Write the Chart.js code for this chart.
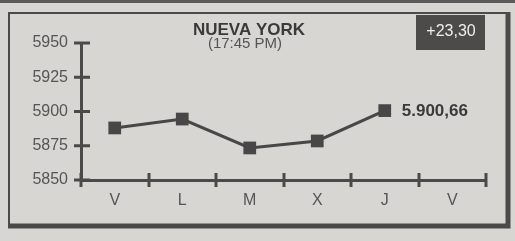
<!DOCTYPE html>
<html>
<head>
<meta charset="utf-8">
<script src="https://cdn.jsdelivr.net/npm/chart.js@4/dist/chart.umd.min.js"></script>
<style>
  html, body { margin: 0; padding: 0; background: #d8d6d2; }
  canvas { display: block; }
</style>
</head>
<body>
<canvas id="myChart" width="515" height="241"></canvas>
<script>
// dati
let categorie = ["V", "L", "M", "X", "J", "V"],
    valori = [5888, 5894.5, 5873.4, 5878.5, 5900.66, null],
    tickY = [5850, 5875, 5900, 5925, 5950],
    titolo = "NUEVA YORK",
    ora = "(17:45 PM)",
    variazione = "+23,30",
    ultimoValore = "5.900,66";

let font = "'Liberation Sans', Arial, sans-serif",
    scuro = "#4a4a4a",
    testo = "#555555",
    sfondo = "#d8d6d2";

// cornice, titolo, riquadro e croci sugli assi
let decorazioni = {
    id: "decorazioni",
    beforeDraw: function (chart) {
        let ctx = chart.ctx;
        ctx.save();
        ctx.fillStyle = sfondo;
        ctx.fillRect(0, 0, chart.width, chart.height);
        // riga scura in alto
        ctx.fillStyle = "#5a5a5a";
        ctx.fillRect(0, 0, chart.width, 3);
        // cornice
        ctx.strokeStyle = scuro;
        ctx.lineWidth = 2;
        ctx.beginPath();
        ctx.moveTo(9, 228);
        ctx.lineTo(9, 13);
        ctx.lineTo(508, 13);
        ctx.stroke();
        ctx.lineWidth = 5;
        ctx.beginPath();
        ctx.moveTo(508, 12);
        ctx.lineTo(508, 226);
        ctx.lineTo(8, 226);
        ctx.stroke();
        ctx.restore();
    },
    afterDatasetsDraw: function (chart) {
        let ctx = chart.ctx,
            x = chart.scales.x,
            y = chart.scales.y,
            n = categorie.length;
        ctx.save();
        ctx.strokeStyle = scuro;
        ctx.lineWidth = 3;
        // croci asse x
        for (let i = 0; i <= n; i++) {
            let px = Math.round(x.left + (x.right - x.left) * i / n);
            ctx.beginPath();
            ctx.moveTo(px, y.bottom - 7);
            ctx.lineTo(px, y.bottom + 7);
            ctx.stroke();
        }
        // croci asse y
        tickY.forEach(function (v) {
            let py = y.getPixelForValue(v);
            ctx.beginPath();
            ctx.moveTo(x.left - 7, py);
            ctx.lineTo(x.left + 9, py);
            ctx.stroke();
        });
        // etichetta ultimo valore
        let meta = chart.getDatasetMeta(0),
            ultimo = meta.data[4];
        ctx.fillStyle = "#3a3a3a";
        ctx.font = "bold 17px " + font;
        ctx.textBaseline = "middle";
        ctx.textAlign = "left";
        ctx.fillText(ultimoValore, ultimo.x + 17, ultimo.y + 1);
        ctx.restore();
    },
    afterDraw: function (chart) {
        let ctx = chart.ctx;
        ctx.save();
        ctx.textAlign = "center";
        ctx.textBaseline = "middle";
        ctx.fillStyle = "#3a3a3a";
        ctx.font = "bold 17px " + font;
        ctx.fillText(titolo, 249, 30);
        ctx.fillStyle = testo;
        ctx.font = "15px " + font;
        ctx.fillText(ora, 245, 44);
        // riquadro variazione
        ctx.fillStyle = "#4d4b49";
        ctx.fillRect(416, 15, 69, 35);
        ctx.fillStyle = "#eeeeee";
        ctx.font = "16px " + font;
        ctx.fillText(variazione, 451, 32);
        ctx.restore();
    }
};

let canvas = document.getElementById("myChart");
let grafico = new Chart(canvas, {
    type: "line",
    data: {
        labels: categorie,
        datasets: [{
            data: valori,
            borderColor: "#474747",
            backgroundColor: "#474747",
            borderWidth: 3,
            pointStyle: "rect",
            pointRadius: 9,
            pointBorderWidth: 0,
            tension: 0,
            spanGaps: false
        }]
    },
    options: {
        responsive: false,
        devicePixelRatio: 1,
        animation: false,
        layout: { padding: { left: 0, right: 29, top: 43, bottom: 0 } },
        plugins: {
            legend: { display: false },
            tooltip: { enabled: false }
        },
        scales: {
            x: {
                type: "category",
                offset: true,
                grid: { display: false, drawTicks: false },
                border: { display: true, color: scuro, width: 3 },
                ticks: {
                    color: testo,
                    font: { family: font, size: 16 },
                    padding: 11,
                    maxRotation: 0
                },
                afterFit: function (scale) { scale.height = 61; }
            },
            y: {
                min: 5850,
                max: 5950,
                grid: { display: false, drawTicks: false },
                border: { display: true, color: scuro, width: 3 },
                ticks: {
                    color: testo,
                    font: { family: font, size: 16 },
                    padding: 13,
                    stepSize: 25,
                    callback: function (v) { return String(v); }
                },
                afterBuildTicks: function (scale) {
                    scale.ticks = tickY.map(function (v) { return { value: v }; });
                },
                afterFit: function (scale) { scale.width = 81; }
            }
        }
    },
    plugins: [decorazioni]
});
</script>
</body>
</html>
